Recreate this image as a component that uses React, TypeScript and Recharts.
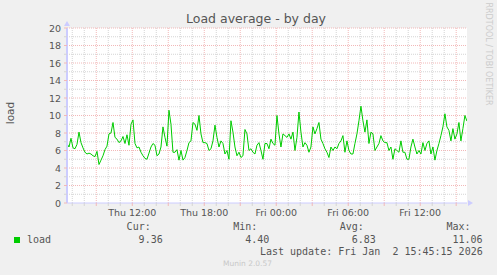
import React from 'react';
import {
  LineChart,
  Line,
  XAxis,
  YAxis,
  ReferenceLine,
  ReferenceArea,
  ReferenceDot,
} from 'recharts';

// load average, one sample every 10 minutes, Thu ~06:34 -> Fri 15:45
const LOAD = [
  6.8, 6.4, 7.4, 6.3, 6.2, 6.7, 8.1, 6.9, 6.3, 5.8,
  5.6, 5.7, 5.6, 5.4, 5.3, 5.9, 4.4, 4.9, 5.4, 6.1,
  6.5, 7.9, 8.0, 9.2, 7.5, 7.3, 6.9, 7.1, 7.6, 6.8,
  7.8, 6.6, 9.0, 9.5, 6.8, 6.3, 6.4, 5.8, 5.4, 5.1,
  5.0, 5.7, 6.4, 6.8, 6.6, 5.4, 5.6, 6.4, 8.7, 7.5,
  6.5, 10.6, 9.0, 5.8, 5.8, 6.1, 4.9, 6.0, 4.9, 5.2,
  6.0, 6.9, 7.1, 9.2, 9.0, 8.3, 10.0, 7.9, 6.9, 6.9,
  6.8, 6.0, 6.2, 7.1, 8.9, 7.5, 6.4, 7.1, 6.8, 5.6,
  6.0, 5.0, 9.4, 8.1, 6.4, 5.4, 5.8, 5.2, 5.4, 8.4,
  7.9, 6.0, 6.2, 5.8, 5.6, 6.6, 6.9, 6.0, 5.0, 6.8,
  6.8, 6.2, 7.3, 6.8, 6.6, 10.0, 7.9, 6.4, 7.9, 7.7,
  7.5, 7.9, 7.3, 8.1, 6.0, 7.5, 10.4, 8.1, 6.4, 6.9,
  6.6, 5.8, 6.4, 8.7, 7.9, 8.5, 9.2, 7.3, 6.8, 6.2,
  5.8, 5.2, 6.4, 6.0, 6.4, 6.2, 6.8, 7.1, 7.7, 5.8,
  7.1, 6.0, 5.6, 5.6, 6.8, 7.9, 9.4, 11.06, 9.4, 8.1,
  9.5, 6.8, 8.1, 7.9, 6.0, 6.4, 6.8, 7.7, 7.1, 6.9,
  6.9, 6.0, 6.4, 5.0, 6.2, 6.0, 5.8, 7.1, 5.8, 5.8,
  5.0, 5.0, 6.4, 7.3, 6.4, 5.6, 6.0, 5.6, 6.9, 6.0,
  6.8, 7.1, 5.6, 6.4, 4.9, 6.0, 6.8, 7.7, 8.7, 10.2,
  8.7, 8.3, 7.1, 8.5, 7.3, 7.9, 9.2, 7.1, 8.5, 10.0,
  9.36,
];
const START_HOUR = 6.56; // hours since Thu 00:00
const STEP_HOURS = 1 / 6;
const X_DOMAIN: [number, number] = [6.56, 39.9];
const Y_MAX = 20;

const LABEL_HOURS = [12, 18, 24, 30, 36];
const LABEL_TEXT = ['Thu 12:00', 'Thu 18:00', 'Fri 00:00', 'Fri 06:00', 'Fri 12:00'];
const HOUR_TICKS = Array.from({ length: 33 }, (_, i) => 7 + i);
const VALUE_TICKS = Array.from({ length: 21 }, (_, i) => i);

const STAT_NAMES = ['Cur:', 'Min:', 'Avg:', 'Max:'];
const STAT_VALUES = ['9.36', '4.40', '6.83', '11.06'];
const LAST_UPDATE = 'Last update: Fri Jan  2 15:45:15 2026';

const data = LOAD.map((load, i) => ({ hour: START_HOUR + i * STEP_HOURS, load }));

const MAJOR = '#f2b8b8';
const MINOR = '#d4d4d4';
const AXIS = '#ccccff';
const TEXT = '#555555';
const SANS = '"DejaVu Sans", sans-serif';
const MONO = '"DejaVu Sans Mono", monospace';

const XTick = (props: any) => {
  const { x, y, payload } = props;
  const h = payload.value;
  const idx = LABEL_HOURS.indexOf(h);
  return (
    <g>
      <line x1={x} x2={x} y1={y} y2={y + 3} stroke={h % 3 === 0 ? MAJOR : MINOR} />
      {idx >= 0 && (
        <text x={x} y={y + 13} textAnchor="middle" fontSize={9.5} fontFamily={SANS} fill={TEXT}>
          {LABEL_TEXT[idx]}
        </text>
      )}
    </g>
  );
};

const YTick = (props: any) => {
  const { x, y, payload } = props;
  const v = payload.value;
  return (
    <g>
      <line x1={x - 3} x2={x} y1={y} y2={y} stroke={v % 2 === 0 ? MAJOR : MINOR} />
      {v % 2 === 0 && (
        <text x={x - 6} y={y + 3.5} textAnchor="end" fontSize={9.5} fontFamily={SANS} fill={TEXT}>
          {v}
        </text>
      )}
    </g>
  );
};

const UpArrow = (props: any) => (
  <polygon
    points={`${props.cx},${props.cy - 7} ${props.cx - 3},${props.cy - 2} ${props.cx + 3},${props.cy - 2}`}
    fill={AXIS}
  />
);

const RightArrow = (props: any) => (
  <polygon
    points={`${props.cx + 6},${props.cy} ${props.cx + 1},${props.cy - 3} ${props.cx + 1},${props.cy + 3}`}
    fill={AXIS}
  />
);

const monoStyle: React.CSSProperties = {
  position: 'absolute',
  fontFamily: MONO,
  fontSize: 10,
  lineHeight: '10px',
  color: TEXT,
  whiteSpace: 'pre',
};

export default function App() {
  return (
    <div style={{ position: 'relative', width: 497, height: 275, background: '#f0f0f0', overflow: 'hidden' }}>
      <style>{'body{margin:0}'}</style>
      <div
        style={{
          position: 'absolute',
          top: 11,
          width: 497,
          textAlign: 'center',
          fontFamily: SANS,
          fontSize: 12.5,
          color: TEXT,
          paddingLeft: 15,
          boxSizing: 'border-box',
        }}
      >
        Load average - by day
      </div>
      <div
        style={{
          position: 'absolute',
          left: 10,
          top: 113,
          transform: 'translate(-50%, -50%) rotate(-90deg)',
          fontFamily: SANS,
          fontSize: 10.5,
          color: TEXT,
        }}
      >
        load
      </div>
      <div
        style={{
          position: 'absolute',
          left: 488,
          top: 54,
          transform: 'translate(-50%, -50%) rotate(90deg)',
          fontFamily: SANS,
          fontSize: 8,
          color: '#cccccc',
          whiteSpace: 'nowrap',
        }}
      >
        RRDTOOL / TOBI OETIKER
      </div>
      <LineChart
        width={497}
        height={275}
        data={data}
        margin={{ top: 28, right: 30, left: 0, bottom: 0 }}
        style={{ position: 'absolute', left: 0, top: 0 }}
      >
        <XAxis
          dataKey="hour"
          type="number"
          domain={X_DOMAIN}
          allowDataOverflow
          ticks={HOUR_TICKS}
          interval={0}
          height={72}
          tickSize={0}
          tickMargin={0}
          tickLine={false}
          axisLine={{ stroke: AXIS }}
          tick={<XTick />}
        />
        <YAxis
          type="number"
          domain={[0, Y_MAX]}
          ticks={VALUE_TICKS}
          interval={0}
          width={67}
          tickSize={0}
          tickMargin={0}
          tickLine={false}
          axisLine={{ stroke: AXIS, strokeWidth: 2 }}
          tick={<YTick />}
        />
        <ReferenceArea x1={X_DOMAIN[0]} x2={X_DOMAIN[1]} y1={0} y2={Y_MAX} fill="#ffffff" fillOpacity={1} stroke="none" />
        {HOUR_TICKS.map((h) => (
          <ReferenceLine
            key={`v${h}`}
            x={h}
            stroke={h % 3 === 0 ? MAJOR : MINOR}
            strokeDasharray="1 1"
          />
        ))}
        {VALUE_TICKS.filter((v) => v > 0).map((v) => (
          <ReferenceLine
            key={`h${v}`}
            y={v}
            stroke={v % 2 === 0 ? MAJOR : MINOR}
            strokeDasharray="1 1"
          />
        ))}
        <ReferenceDot x={X_DOMAIN[0]} y={Y_MAX} ifOverflow="visible" shape={<UpArrow />} />
        <ReferenceDot x={X_DOMAIN[1]} y={0} ifOverflow="visible" shape={<RightArrow />} />
        <Line
          type="linear"
          dataKey="load"
          stroke="#00cc00"
          strokeWidth={1}
          dot={false}
          isAnimationActive={false}
        />
      </LineChart>

      <div style={{ position: 'absolute', left: 14, top: 237, width: 6, height: 6, background: '#00cc00' }} />
      <div style={{ ...monoStyle, left: 27, top: 235 }}>load</div>
      {STAT_NAMES.map((name, i) => (
        <div key={name} style={{ ...monoStyle, right: 497 - (150.7 + i * 106.6), top: 222 }}>
          {name}
        </div>
      ))}
      {STAT_VALUES.map((val, i) => (
        <div key={`s${i}`} style={{ ...monoStyle, right: 497 - (162.7 + i * 106.6), top: 235 }}>
          {val}
        </div>
      ))}
      <div style={{ ...monoStyle, right: 14.3, top: 247 }}>{LAST_UPDATE}</div>
      <div
        style={{
          position: 'absolute',
          left: 247.5,
          top: 263,
          transform: 'translate(-50%, -50%)',
          fontFamily: SANS,
          fontSize: 7.5,
          color: '#c8c8c8',
        }}
      >
        Munin 2.0.57
      </div>
    </div>
  );
}
